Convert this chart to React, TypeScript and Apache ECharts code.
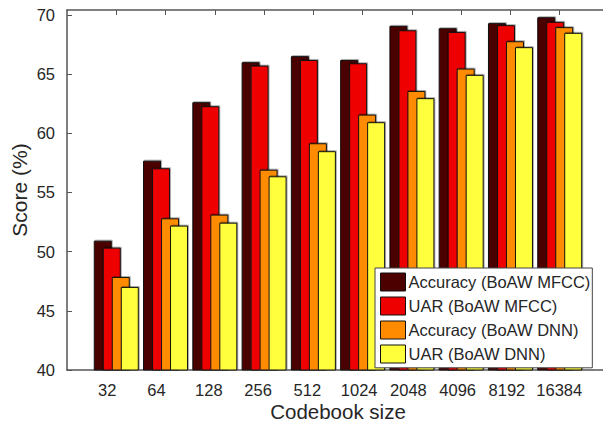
import React, { useEffect, useRef } from "react";
import * as echarts from "echarts";

const categories = ["32", "64", "128", "256", "512", "1024", "2048", "4096", "8192", "16384"];
const seriesNames = [
  "Accuracy (BoAW MFCC)",
  "UAR (BoAW MFCC)",
  "Accuracy (BoAW DNN)",
  "UAR (BoAW DNN)",
];
const accMfcc = [50.93, 57.69, 62.63, 66.01, 66.52, 66.2, 69.08, 68.88, 69.31, 69.81];
const uarMfcc = [50.34, 57.05, 62.29, 65.72, 66.2, 65.92, 68.71, 68.57, 69.14, 69.42];
const accDnn = [47.86, 52.82, 53.13, 56.93, 59.16, 61.58, 63.58, 65.47, 67.78, 68.97];
const uarDnn = [47.02, 52.2, 52.45, 56.37, 58.49, 60.94, 62.97, 64.94, 67.28, 68.49];
const yTicks = [40, 45, 50, 55, 60, 65, 70];
const colors = ["#4c0000", "#ee0000", "#ff8c00", "#ffff3c"];

const FONT = "Liberation Sans, Arial, Helvetica, sans-serif";
const TXT = "#262626";
const AX = "#555555";

export default function App() {
  const ref = useRef<HTMLDivElement>(null);
  useEffect(() => {
    if (!ref.current) return;
    const chart = echarts.init(ref.current, undefined, { renderer: "svg" });
    const positions = categories.map((_, i) => i + 1);
    const all = [accMfcc, uarMfcc, accDnn, uarDnn];
    const pad: Record<number, number> = { 2: 18, 3: 12, 4: 7, 5: 1 };
    const rich: Record<string, any> = {};
    [2, 3, 4, 5].forEach((n) => {
      rich["p" + n] = {
        padding: [0, pad[n], 0, 0],
        fontSize: 16.5,
        fontFamily: FONT,
        color: TXT,
      };
    });
    chart.setOption({
      animation: false,
      grid: {
        left: 67,
        top: 10,
        width: 542,
        height: 360,
        containLabel: false,
        outerBoundsMode: "none",
      },
      xAxis: [
        {
          type: "value",
          min: 0,
          max: 11,
          position: "bottom",
          splitLine: { show: false },
          axisLine: { show: true, lineStyle: { color: AX, width: 1.5 } },
          axisTick: {
            show: true,
            inside: true,
            length: 5,
            customValues: positions,
            lineStyle: { color: AX },
          },
          axisLabel: {
            customValues: positions,
            margin: 11,
            fontSize: 16.5,
            fontFamily: FONT,
            color: TXT,
            formatter: (v: number) => {
              const s = categories[Math.round(v) - 1] ?? "";
              return `{p${s.length}|${s}}`;
            },
            rich,
          },
          name: "Codebook size",
          nameLocation: "middle",
          nameGap: 31,
          nameMoveOverlap: false,
          nameTextStyle: { fontSize: 20.5, fontFamily: FONT, color: TXT },
        },
        {
          type: "value",
          min: 0,
          max: 11,
          position: "top",
          splitLine: { show: false },
          axisLine: { show: true, lineStyle: { color: AX, width: 1.5 } },
          axisTick: {
            show: true,
            inside: true,
            length: 5,
            customValues: positions,
            lineStyle: { color: AX },
          },
          axisLabel: { show: false },
        },
      ],
      yAxis: {
        type: "value",
        min: 40,
        max: 70.42,
        splitLine: { show: false },
        axisLine: { show: true, lineStyle: { color: AX, width: 1.5 } },
        axisTick: {
          show: true,
          inside: true,
          length: 5,
          customValues: yTicks,
          lineStyle: { color: AX },
        },
        axisLabel: {
          customValues: yTicks,
          margin: 12,
          fontSize: 16.5,
          fontFamily: FONT,
          color: TXT,
        },
        name: "Score (%)",
        nameLocation: "middle",
        nameRotate: 90,
        nameGap: 37,
        nameMoveOverlap: false,
        nameTextStyle: { fontSize: 21, fontFamily: FONT, color: TXT },
      },
      legend: {
        orient: "vertical",
        left: 375,
        top: 268,
        padding: [4.5, 2, 4.3, 5],
        itemWidth: 25,
        itemHeight: 18,
        itemGap: 5,
        icon: "rect",
        backgroundColor: "#ffffff",
        borderColor: "#444444",
        borderWidth: 1,
        itemStyle: { borderColor: "#111111", borderWidth: 1 },
        textStyle: { fontSize: 16.5, fontFamily: FONT, color: TXT, padding: [0, 0, 0, -2] },
        data: seriesNames,
      },
      series: all.map((vals, k) => ({
        type: "bar",
        name: seriesNames[k],
        xAxisIndex: 0,
        barWidth: 18,
        barGap: "-50%",
        itemStyle: {
          color: colors[k],
          borderColor: "#111111",
          borderWidth: 1,
          shadowColor: "rgba(0,0,0,0.3)",
          shadowOffsetX: 1,
          shadowOffsetY: -1,
          shadowBlur: 1,
        },
        data: vals.map((v, i) => [positions[i], v]),
      })),
    });
    return () => chart.dispose();
  }, []);
  return (
    <div
      ref={ref}
      style={{ position: "fixed", left: 0, top: 0, width: 603, height: 423, background: "#fff" }}
    />
  );
}
